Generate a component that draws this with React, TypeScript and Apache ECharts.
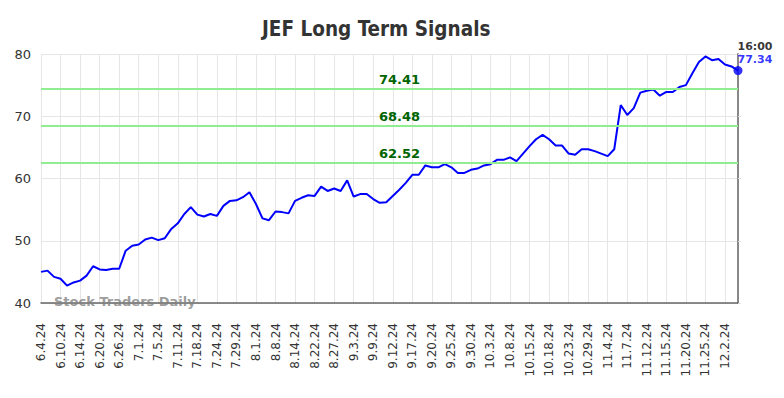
import React, { useEffect, useRef } from "react";
import * as echarts from "echarts";

const title = "JEF Long Term Signals";
const watermark = "Stock Traders Daily";
const lastTime = "16:00";

const dates = [
  "6.4.24", "6.5.24", "6.7.24", "6.10.24", "6.11.24", "6.12.24", "6.14.24", "6.17.24", "6.18.24",
  "6.20.24", "6.21.24", "6.24.24", "6.26.24", "6.27.24", "6.28.24", "7.1.24", "7.2.24", "7.3.24",
  "7.5.24", "7.8.24", "7.9.24", "7.11.24", "7.12.24", "7.16.24", "7.18.24", "7.19.24", "7.22.24",
  "7.24.24", "7.25.24", "7.26.24", "7.29.24", "7.30.24", "7.31.24", "8.1.24", "8.5.24", "8.6.24",
  "8.8.24", "8.12.24", "8.13.24", "8.14.24", "8.16.24", "8.20.24", "8.22.24", "8.23.24", "8.26.24",
  "8.27.24", "8.29.24", "8.30.24", "9.3.24", "9.5.24", "9.6.24", "9.9.24", "9.10.24", "9.11.24",
  "9.12.24", "9.13.24", "9.16.24", "9.17.24", "9.18.24", "9.19.24", "9.20.24", "9.23.24", "9.24.24",
  "9.25.24", "9.26.24", "9.27.24", "9.30.24", "10.1.24", "10.2.24", "10.3.24", "10.4.24", "10.7.24",
  "10.8.24", "10.10.24", "10.14.24", "10.15.24", "10.16.24", "10.17.24", "10.18.24", "10.21.24", "10.22.24",
  "10.23.24", "10.25.24", "10.28.24", "10.29.24", "10.31.24", "11.1.24", "11.4.24", "11.5.24", "11.6.24",
  "11.7.24", "11.8.24", "11.11.24", "11.12.24", "11.13.24", "11.14.24", "11.15.24", "11.18.24", "11.19.24",
  "11.20.24", "11.21.24", "11.22.24", "11.25.24", "11.26.24", "11.27.24", "12.2.24", "12.3.24", "12.4.24",
];

const prices = [
  45.0, 45.2, 44.2, 43.9, 42.8, 43.3, 43.6, 44.4, 45.9,
  45.4, 45.3, 45.5, 45.5, 48.4, 49.2, 49.4, 50.2, 50.5,
  50.1, 50.4, 51.9, 52.8, 54.3, 55.4, 54.2, 53.9, 54.3,
  54.0, 55.6, 56.4, 56.5, 57.0, 57.8, 55.9, 53.6, 53.3,
  54.7, 54.6, 54.4, 56.4, 56.9, 57.3, 57.2, 58.7, 58.0,
  58.4, 58.0, 59.7, 57.1, 57.5, 57.5, 56.7, 56.1, 56.2,
  57.2, 58.2, 59.3, 60.6, 60.6, 62.1, 61.8, 61.8, 62.3,
  61.8, 60.9, 60.9, 61.4, 61.6, 62.1, 62.3, 63.0, 63.0,
  63.4, 62.8, 64.0, 65.2, 66.3, 67.0, 66.3, 65.3, 65.3,
  64.0, 63.8, 64.7, 64.7, 64.4, 64.0, 63.6, 64.7, 71.8,
  70.2, 71.3, 73.8, 74.1, 74.3, 73.3, 73.9, 73.9, 74.7,
  75.0, 76.9, 78.7, 79.6, 79.0, 79.2, 78.3, 78.0, 77.34,
];

const signalLevels = [74.41, 68.48, 62.52];

const yMin = 40;
const yMax = 80;
const yInterval = 10;

export default function App() {
  const ref = useRef<HTMLDivElement>(null);

  useEffect(() => {
    if (!ref.current) return;
    const chart = echarts.init(ref.current, null, { renderer: "svg" });
    const lastIdx = prices.length - 1;
    const font = "DejaVu Sans";

    chart.setOption({
      animation: false,
      backgroundColor: "#ffffff",
      title: {
        text: title,
        left: 257,
        top: 13,
        textStyle: {
          fontFamily: "DejaVu Sans Condensed",
          fontSize: 20.5,
          fontWeight: "bold",
          color: "#333333",
        },
      },
      grid: { left: 41, right: 46, top: 54, bottom: 95, containLabel: false },
      xAxis: {
        type: "category",
        data: dates,
        boundaryGap: false,
        axisLine: { show: true, lineStyle: { color: "#666666", width: 1.5 } },
        axisTick: { show: false },
        axisLabel: {
          interval: 2,
          rotate: 90,
          margin: 20,
          fontFamily: font,
          fontSize: 12,
          color: "#333333",
        },
        splitLine: { show: true, interval: 2, lineStyle: { color: "#e6e6e6", width: 1 } },
      },
      yAxis: [
        {
          type: "value",
          min: yMin,
          max: yMax,
          interval: yInterval,
          axisLine: { show: false },
          axisTick: { show: false },
          axisLabel: { fontFamily: font, fontSize: 13, color: "#333333", margin: 10 },
          splitLine: { show: true, lineStyle: { color: "#e6e6e6", width: 1 } },
        },
        {
          type: "value",
          position: "right",
          min: yMin,
          max: yMax,
          interval: yInterval,
          axisLine: { show: true, lineStyle: { color: "#888888", width: 2 } },
          axisTick: { show: true, length: 3, lineStyle: { color: "#dddddd" } },
          axisLabel: { show: false },
          splitLine: { show: false },
        },
      ],
      graphic: [
        {
          type: "text",
          left: 54,
          top: 295,
          style: {
            text: watermark,
            fontFamily: font,
            fontSize: 13,
            fontWeight: "bold",
            fill: "rgba(130,130,130,0.8)",
          },
          z: 10,
        },
      ],
      series: [
        {
          type: "line",
          data: prices,
          symbol: "none",
          lineStyle: { color: "#0000ff", width: 2 },
          z: 3,
          markLine: {
            silent: true,
            symbol: "none",
            lineStyle: { color: "#90ee90", width: 2, type: "solid" },
            label: {
              show: true,
              position: "insideMiddleTop",
              distance: 3,
              offset: [10, 0],
              fontFamily: font,
              fontSize: 13,
              fontWeight: "bold",
              color: "#006400",
              formatter: (p: any) => p.value.toFixed(2),
            },
            data: signalLevels.map((v) => ({ yAxis: v })),
          },
        },
        {
          type: "scatter",
          data: [[dates[lastIdx], prices[lastIdx]]],
          symbol: "circle",
          symbolSize: 9,
          itemStyle: { color: "#0000ff" },
          z: 5,
          label: {
            show: true,
            position: [4, -26],
            align: "left",
            verticalAlign: "top",
            formatter: () => `{t|${lastTime}}\n{v|${prices[lastIdx].toFixed(2)}}`,
            rich: {
              t: { fontFamily: font, fontSize: 11, fontWeight: "bold", color: "#000000", lineHeight: 13 },
              v: { fontFamily: font, fontSize: 11, fontWeight: "bold", color: "#0000ff", lineHeight: 13 },
            },
          },
        },
      ],
    });

    return () => chart.dispose();
  }, []);

  return <div ref={ref} style={{ width: 784, height: 398, position: "fixed", left: 0, top: 0 }} />;
}
